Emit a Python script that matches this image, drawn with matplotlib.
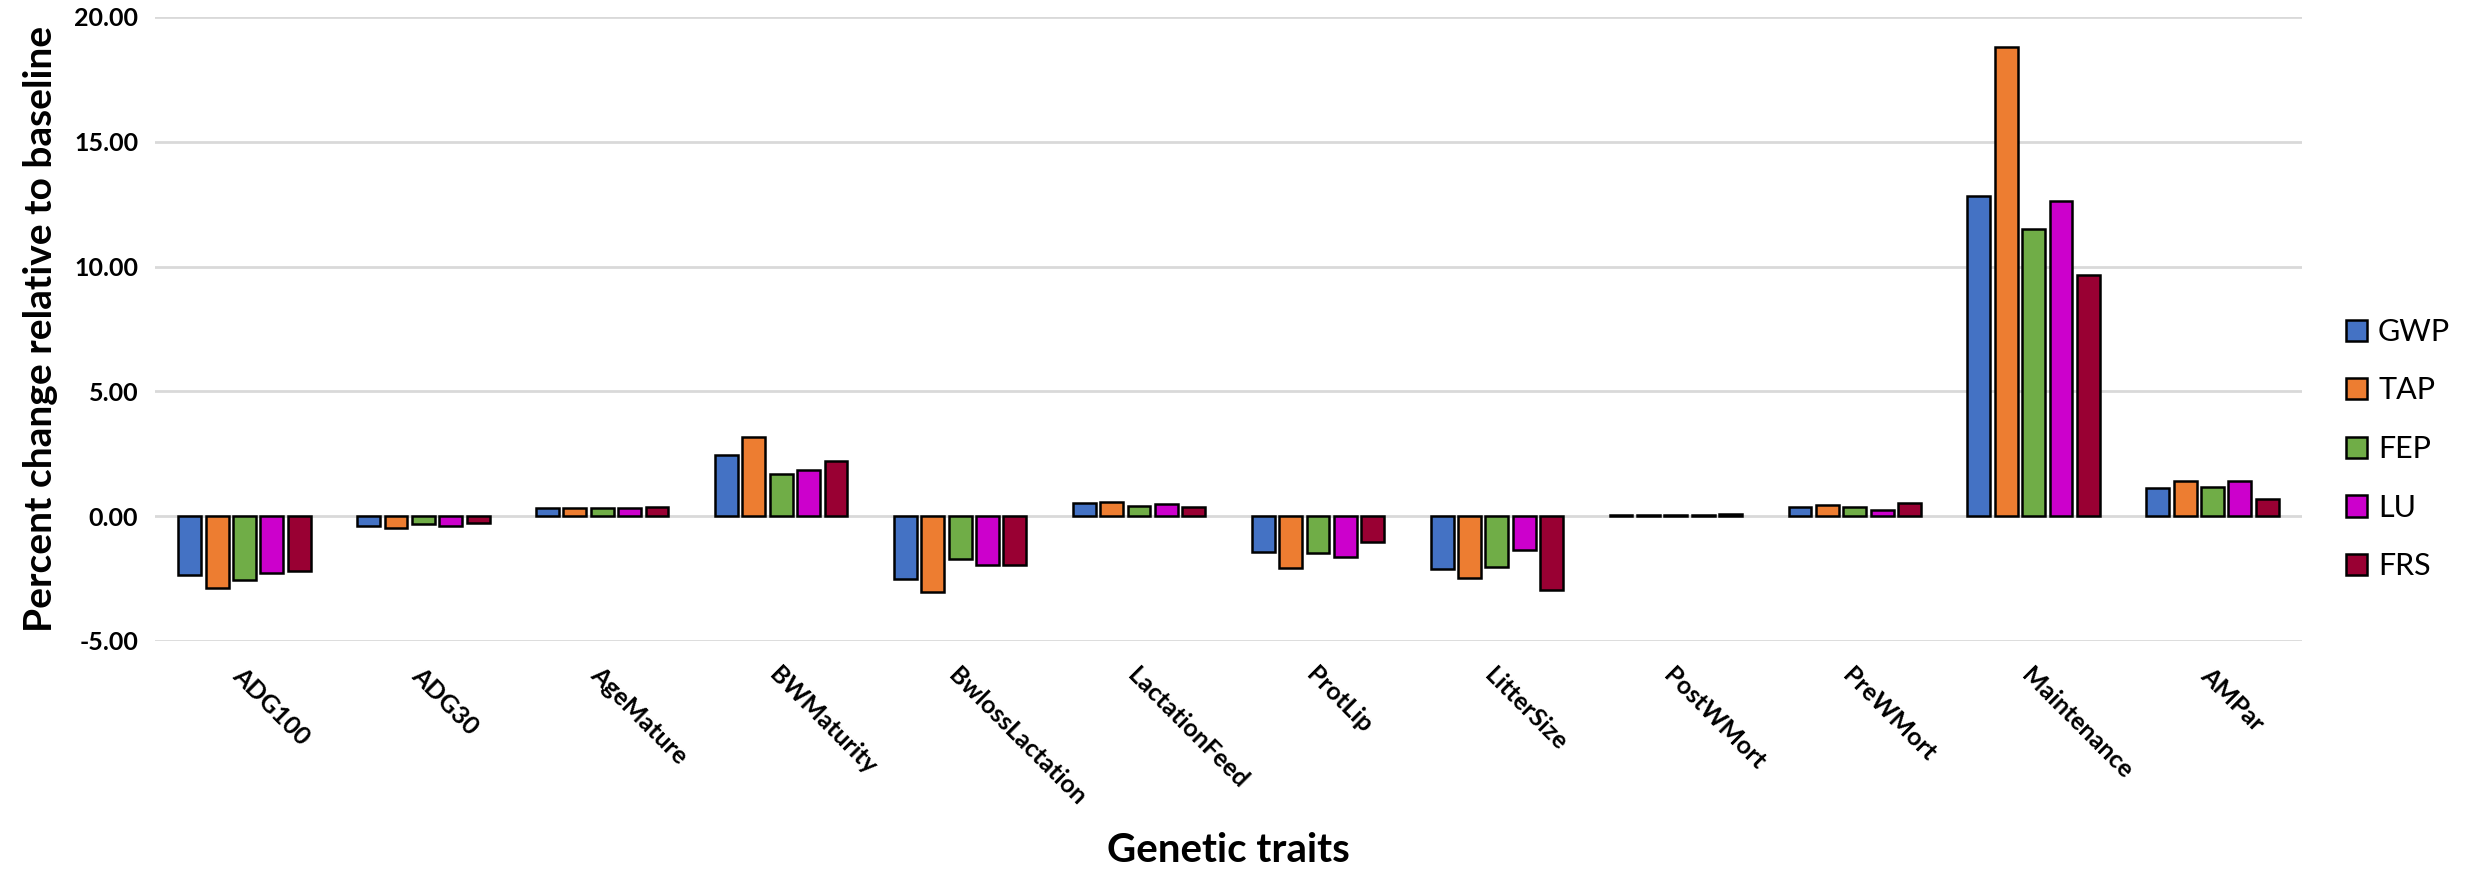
import numpy as np
import matplotlib
matplotlib.use("Agg")
import matplotlib.pyplot as plt

# ---------- Data ----------
traits = ["ADG100", "ADG30", "AgeMature", "BWMaturity", "BwlossLactation",
          "LactationFeed", "ProtLip", "LitterSize", "PostWMort", "PreWMort",
          "Maintenance", "AMPar"]

gwp = [-2.36, -0.39, 0.32, 2.46, -2.51, 0.51, -1.44, -2.10, 0.05, 0.36, 12.82, 1.13]
tap = [-2.89, -0.48, 0.32, 3.19, -3.02, 0.56, -2.06, -2.46, 0.05, 0.46, 18.80, 1.40]
fep = [-2.54, -0.30, 0.31, 1.68, -1.73, 0.42, -1.49, -2.04, 0.05, 0.36, 11.49, 1.18]
lu  = [-2.27, -0.39, 0.31, 1.85, -1.94, 0.47, -1.64, -1.37, 0.05, 0.26, 12.62, 1.40]
frs = [-2.18, -0.27, 0.36, 2.22, -1.94, 0.36, -1.02, -2.94, 0.10, 0.51, 9.68, 0.67]

series_names = ["GWP", "TAP", "FEP", "LU", "FRS"]
series_values = [gwp, tap, fep, lu, frs]
colors = ["#4472C4", "#ED7D31", "#70AD47", "#CC00CC", "#990033"]

yticks = [-5, 0, 5, 10, 15, 20]

# ---------- Figure ----------
plt.rcParams['font.family'] = ['Lato', 'DejaVu Sans']

W, H = 2473, 872
fig = plt.figure(figsize=(W / 100, H / 100), dpi=100)
ax = fig.add_axes([155 / W, 1 - 641 / H, (2302 - 155) / W, (641 - 17) / H])

x = np.arange(len(traits))
bar_w = 0.128
pitch = 0.153
for i, (name, vals, col) in enumerate(zip(series_names, series_values, colors)):
    ax.bar(x + (i - 2) * pitch, vals, width=bar_w, color=col,
           edgecolor="black", linewidth=1.8, label=name, zorder=3)

ax.set_xlim(-0.5, len(traits) - 0.5)
ax.set_ylim(-5, 20)
ax.set_yticks(yticks)
ax.set_yticklabels([f"{v:.2f}" for v in yticks], fontsize=18, fontweight="bold")
ax.yaxis.grid(True, color="#d9d9d9", linewidth=2, zorder=0)
ax.set_axisbelow(True)
ax.tick_params(axis="both", length=0)
ax.tick_params(axis="y", pad=12)

ax.set_xticks(x)
ax.set_xticklabels(traits, rotation=-45, ha="left", va="top",
                   rotation_mode="anchor", fontsize=18, fontweight="bold")
ax.tick_params(axis="x", pad=16)

for s in ax.spines.values():
    s.set_visible(False)

ax.set_ylabel("Percent change relative to baseline", fontsize=28,
              fontweight="bold", labelpad=12)
fig.text((155 + 2302) / 2 / W, 1 - 850 / H, "Genetic traits", fontsize=29,
         fontweight="bold", ha="center", va="center")

fig.legend(loc="center left", bbox_to_anchor=(2346 / W, 1 - 449 / H),
           frameon=False, fontsize=22, handlelength=0.7, handleheight=0.7,
           handletextpad=0.35, labelspacing=1.0, borderpad=0, borderaxespad=0)

fig.savefig("out.png", dpi=100)
